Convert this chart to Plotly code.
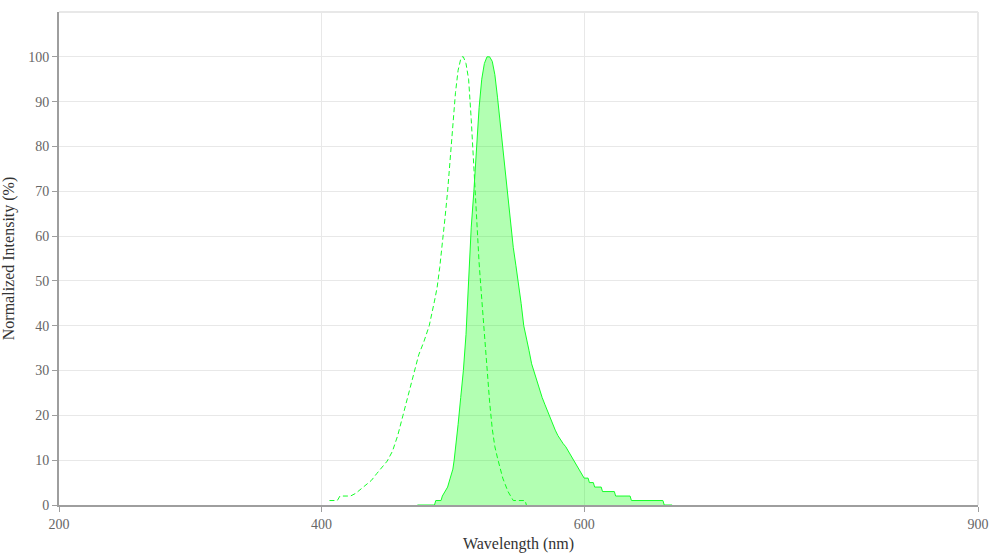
import plotly.graph_objects as go

# Excitation spectrum (dashed)
ex_wl = [406, 412, 414, 422, 426, 430, 434, 438, 442, 446, 450, 454, 458, 462, 466, 470,
         474, 478, 482, 486, 488, 490, 492, 494, 496, 498, 500, 502, 504, 506, 507, 508,
         510, 512, 514, 516, 518, 520, 522, 524, 526, 528, 530, 532, 534, 536, 538, 540,
         542, 544, 546, 555, 556]
ex_val = [1, 1, 2, 2, 2.6, 3.5, 4.5, 5.5, 7, 8.5, 9.8, 12, 15.5, 20, 24.5, 29,
          33.5, 36.5, 40, 45.5, 48.5, 53, 58, 64, 70, 78, 86, 92, 97, 99.5, 100, 100,
          98.5, 95, 86, 75, 63, 54, 46, 38, 29, 23, 17, 13, 10.5, 8, 6, 4.5,
          3, 2, 1, 1, 0]

# Emission spectrum (filled)
em_wl = [473, 486, 487, 491, 492, 494, 496, 498, 500, 501, 502, 504, 506, 508, 510, 512,
         514, 516, 518, 520, 522, 524, 526, 528, 530, 532, 534, 536, 538, 540, 542, 544,
         546, 548, 550, 552, 554, 556, 558, 560, 562, 564, 566, 568, 570, 572, 574, 576,
         578, 580, 582, 584, 586, 588, 590, 592, 594, 596, 598, 600, 603, 604, 607, 608,
         613, 614, 623, 624, 635, 636, 660, 661, 667]
em_val = [0, 0, 1, 1, 2, 3, 4, 6, 8, 10, 12.5, 18, 24, 30, 38, 50,
          62, 70, 80, 88.7, 95, 98.5, 100, 100, 99, 96, 91, 85.5, 79, 74, 68.5, 63,
          57.5, 53.5, 49.5, 45, 40, 37.5, 34.5, 31.5, 29.5, 27.8, 26, 24, 22.5, 21, 19.5, 18,
          16.7, 15.5, 14.5, 13.7, 13, 12, 11, 10, 9, 8, 7, 6, 6, 5, 5, 4,
          4, 3, 3, 2, 2, 1, 1, 0, 0]

x_ticks = [200, 400, 600, 900]
y_ticks = [0, 10, 20, 30, 40, 50, 60, 70, 80, 90, 100]

green = "rgb(20,255,40)"

fig = go.Figure()
fig.add_trace(go.Scatter(
    x=ex_wl, y=ex_val, mode="lines",
    line=dict(color=green, width=1, dash="5px,3px"),
    showlegend=False, hoverinfo="skip"))
fig.add_trace(go.Scatter(
    x=em_wl, y=em_val, mode="lines", fill="tozeroy",
    fillcolor="rgba(0,255,0,0.3)",
    line=dict(color=green, width=1),
    showlegend=False, hoverinfo="skip"))

font_family = "Liberation Serif, Times New Roman, serif"

fig.update_layout(
    width=991, height=553,
    margin=dict(l=59, r=13, t=12, b=48, autoexpand=False),
    plot_bgcolor="white", paper_bgcolor="white",
    font=dict(family=font_family, size=14, color="#666"),
    xaxis=dict(
        range=[200, 900], tickvals=x_ticks, ticktext=[str(v) for v in x_ticks],
        showgrid=True, gridcolor="#e8e8e8", gridwidth=1,
        showline=True, linecolor="#9e9e9e", linewidth=2,
        ticks="outside", ticklen=5, tickcolor="#9e9e9e", tickwidth=1,
        zeroline=False, automargin=False,
        tickfont=dict(family=font_family, size=14, color="#666"),
        title=dict(text="Wavelength (nm)", font=dict(family=font_family, size=16, color="#333")),
    ),
    yaxis=dict(
        range=[0, 110], tickvals=y_ticks,
        showgrid=True, gridcolor="#e8e8e8", gridwidth=1,
        showline=True, linecolor="#9e9e9e", linewidth=2,
        ticks="outside", ticklen=5, tickcolor="#9e9e9e", tickwidth=1,
        zeroline=False, automargin=False,
        tickfont=dict(family=font_family, size=14, color="#666"),
        title=dict(text="Normalized Intensity (%)", font=dict(family=font_family, size=16, color="#333")),
    ),
    shapes=[
        dict(type="line", xref="paper", yref="paper", x0=0, x1=1, y0=1, y1=1,
             line=dict(color="#e8e8e8", width=2), layer="below"),
        dict(type="line", xref="paper", yref="paper", x0=1, x1=1, y0=0, y1=1,
             line=dict(color="#e8e8e8", width=2), layer="below"),
    ],
)

fig.write_html(
    "out.html",
    config={"displayModeBar": False},
    post_script="document.body.style.margin='0';document.body.style.overflow='hidden';",
)
